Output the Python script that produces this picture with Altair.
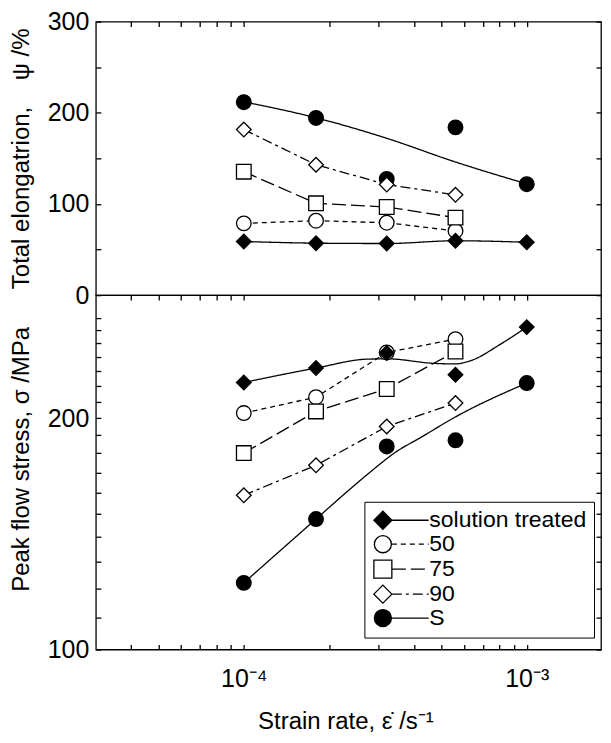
import altair as alt
import pandas as pd

FONT = "Liberation Sans"

# ---------------- data ----------------
series_order = ["solution treated", "50", "75", "90", "S"]
draw_order = ["S", "50", "75", "90", "solution treated"]
curve_names = {"solution treated": "ST line", "50": "50 line", "75": "75 line",
               "90": "90 line", "S": "S line"}
curve_order = [curve_names[s] for s in series_order]

rates = [1e-4, 1.8e-4, 3.2e-4, 5.6e-4, 1e-3]

# top panel: total elongation (%)
elong = {
    "solution treated": [58.8, 57.0, 56.6, 59.6, 58.0],
    "50": [78.7, 81.6, 79.4, 70.4],
    "75": [135.4, 100.7, 96.7, 85.0],
    "90": [181.6, 143.0, 121.3, 110.0],
    "S": [211.6, 194.3, 127.4, 184.0, 121.7],
}
elong_s_fit_rate = [1e-4, 1.8e-4, 3.2e-4, 5.6e-4, 1e-3]
elong_s_fit = [212.0, 194.5, 172.0, 146.0, 122.0]

# bottom panel: peak flow stress (MPa)
stress = {
    "solution treated": [222.5, 232.3, 243.0, 227.7, 262.6],
    "50": [203.0, 212.9, 243.4, 253.3],
    "75": [180.1, 204.0, 218.2, 244.1],
    "90": [158.7, 173.6, 195.0, 209.2],
    "S": [122.1, 147.8, 183.7, 187.1, 222.1],
}
stress_st_fit_rate = [1e-4, 1.8e-4, 2.74e-4, 3.22e-4, 4.68e-4, 5.6e-4, 6.32e-4, 8.06e-4, 1e-3]
stress_st_fit = [222.5, 232.3, 238.6, 238.8, 235.6, 235.2, 237.4, 249.4, 262.6]
stress_s_fit_rate = [1e-4, 1.8e-4, 2.385e-4, 2.85e-4, 3.44e-4, 4.21e-4, 5.6e-4, 1e-3]
stress_s_fit = [122.1, 147.8, 161.9, 171.1, 180.6, 188.6, 200.7, 222.1]

# axis ticks / labels
x_tick_vals = [4e-5, 5e-5, 6e-5, 7e-5, 8e-5, 9e-5,
               1e-4, 2e-4, 3e-4, 4e-4, 5e-4, 6e-4, 7e-4, 8e-4, 9e-4, 1e-3]
top_y_ticks = [0, 50, 100, 150, 200, 250, 300]
bot_y_ticks = [100, 110, 120, 130, 140, 150, 160, 170, 180, 190,
               200, 210, 220, 230, 240, 250, 260, 270]

# ---------------- legend symbols (marker + line sample, unit = half marker) ----
DIAMOND = "M-1,0L0,-1L1,0L0,1Z"
CIRCLE = "M0.95,0A0.95,0.95,0,1,1,-0.95,0A0.95,0.95,0,1,1,0.95,0Z"
SQUARE = "M-1,-1L1,-1L1,1L-1,1Z"
SOLID = "M1,0L5.1,0"
SHORT_DASH = "M1,0L1.56,0M2,0L2.56,0M3,0L3.56,0M4,0L4.56,0M5,0L5.1,0"
LONG_DASH = "M1,0L2.56,0M3.11,0L4.67,0"
DASH_DOT = "M1,0L2.11,0M2.56,0L2.89,0M3.33,0L4.44,0M4.89,0L5.1,0"
legend_paths = [DIAMOND + SOLID, CIRCLE + SHORT_DASH, SQUARE + LONG_DASH,
                DIAMOND + DASH_DOT, CIRCLE + SOLID]

# ---------------- tables ----------------
def point_table(d):
    rows = []
    for s in draw_order:
        for r, v in zip(rates, d[s]):
            rows.append({"series": s, "rate": r, "value": v})
    return pd.DataFrame(rows)


def line_table(d, names):
    rows = []
    for s in names:
        for r, v in zip(rates, d[s]):
            rows.append({"curve": curve_names[s], "rate": r, "value": v})
    return pd.DataFrame(rows)


def fit_table(pairs):
    rows = []
    for s, rr, vv in pairs:
        for r, v in zip(rr, vv):
            rows.append({"curve": curve_names[s], "rate": r, "value": v})
    return pd.DataFrame(rows)


pts_top_df = point_table(elong)
lin_top_df = line_table(elong, ["50", "75", "90"])
cur_top_df = fit_table([("solution treated", rates, elong["solution treated"]),
                        ("S", elong_s_fit_rate, elong_s_fit)])

pts_bot_df = point_table(stress)
lin_bot_df = line_table(stress, ["50", "75", "90"])
cur_bot_df = fit_table([("solution treated", stress_st_fit_rate, stress_st_fit),
                        ("S", stress_s_fit_rate, stress_s_fit)])
legend_df = pd.DataFrame({"entry": series_order,
                          "rate": [float("nan")] * 5,
                          "value": [float("nan")] * 5})

# ---------------- scales ----------------
W, H_TOP, H_BOT = 506, 274, 355
xscale = alt.Scale(type="log", domain=[3e-5, 1.83e-3], nice=False)
y_top_scale = alt.Scale(domain=[0, 300], nice=False, zero=False)
y_bot_scale = alt.Scale(type="log", domain=[100, 289], nice=False)
shape_scale = alt.Scale(domain=series_order,
                        range=["diamond", "circle", "square", "diamond", "circle"])
fill_range = ["black", "white", "white", "white", "black"]
fill_scale = alt.Scale(domain=series_order, range=fill_range)
dash_scale = alt.Scale(domain=curve_order,
                       range=[[1, 0], [5, 4], [14, 5], [10, 4, 3, 4], [1, 0]])
leg_shape_scale = alt.Scale(domain=series_order, range=legend_paths)
leg_fill_scale = alt.Scale(domain=series_order, range=fill_range)
leg_stroke_scale = alt.Scale(domain=series_order, range=["black"] * 5)


def inner_axis(orient, values, label_expr=None, title=None, **kw):
    d = dict(orient=orient, values=values, offset=-5, tickSize=5, tickWidth=1.3,
             tickColor="black", domain=False, grid=False, labelFlush=False,
             labelOverlap=False, labelFont=FONT, labelFontSize=25,
             labelColor="black", titleFont=FONT, titleFontSize=24,
             titleFontWeight="normal", titleColor="black", title=title)
    if label_expr is None:
        d["labels"] = False
    else:
        d["labelExpr"] = label_expr
    d.update(kw)
    return alt.Axis(**d)


x_label_expr = ("abs(log(datum.value)/LN10 + 4) < 0.01 ? '10\u207b\u2074' : "
                "abs(log(datum.value)/LN10 + 3) < 0.01 ? '10\u207b\u00b3' : ''")

legend_cfg = alt.Legend(orient="none", legendX=269, legendY=207, title=None,
                        labelFont=FONT, labelFontSize=23, labelColor="black",
                        labelLimit=400, labelOffset=35, rowPadding=0, padding=7,
                        symbolSize=324, symbolStrokeWidth=1.3, symbolOpacity=1,
                        strokeColor="black")

# ---------------- top panel ----------------
lin_top = alt.Chart(lin_top_df).mark_line(color="black", strokeWidth=1.3).encode(
    x=alt.X("rate:Q", scale=xscale, axis=None),
    y=alt.Y("value:Q", scale=y_top_scale, axis=inner_axis("right", top_y_ticks)),
    strokeDash=alt.StrokeDash("curve:N", scale=dash_scale, legend=None),
)
cur_top = alt.Chart(cur_top_df).mark_line(color="black", strokeWidth=1.3,
                                          interpolate="monotone").encode(
    x=alt.X("rate:Q", scale=xscale, axis=None),
    y=alt.Y("value:Q", scale=y_top_scale, axis=None),
    strokeDash=alt.StrokeDash("curve:N", scale=dash_scale, legend=None),
)
pts_top = alt.Chart(pts_top_df).mark_point(filled=True, size=215, stroke="black",
                                           strokeWidth=1.3, opacity=1).encode(
    x=alt.X("rate:Q", scale=xscale, axis=inner_axis("top", x_tick_vals)),
    y=alt.Y("value:Q", scale=y_top_scale,
            axis=inner_axis("left", top_y_ticks,
                            label_expr="datum.value % 100 == 0 ? datum.label : ''",
                            title="Total elongatrion,\u00a0\u00a0\u00a0\u00a0\u03c8 /%",
                            labelPadding=7, titlePadding=14)),
    shape=alt.Shape("series:N", scale=shape_scale, legend=None),
    fill=alt.Fill("series:N", scale=fill_scale, legend=None),
)
top = alt.layer(lin_top, cur_top, pts_top).resolve_axis(
    x="independent", y="independent").properties(width=W, height=H_TOP)

# ---------------- bottom panel ----------------
lin_bot = alt.Chart(lin_bot_df).mark_line(color="black", strokeWidth=1.3).encode(
    x=alt.X("rate:Q", scale=xscale, axis=inner_axis("top", x_tick_vals)),
    y=alt.Y("value:Q", scale=y_bot_scale, axis=inner_axis("right", bot_y_ticks)),
    strokeDash=alt.StrokeDash("curve:N", scale=dash_scale, legend=None),
)
cur_bot = alt.Chart(cur_bot_df).mark_line(color="black", strokeWidth=1.3,
                                          interpolate="monotone").encode(
    x=alt.X("rate:Q", scale=xscale, axis=None),
    y=alt.Y("value:Q", scale=y_bot_scale, axis=None),
    strokeDash=alt.StrokeDash("curve:N", scale=dash_scale, legend=None),
)
pts_bot = alt.Chart(pts_bot_df).mark_point(filled=True, size=215, stroke="black",
                                           strokeWidth=1.3, opacity=1).encode(
    x=alt.X("rate:Q", scale=xscale,
            axis=inner_axis("bottom", x_tick_vals, label_expr=x_label_expr,
                            title="Strain rate, \u03b5\u0307 /s\u207b\u00b9",
                            labelPadding=17, titlePadding=18, titleX=250,
                            titleAlign="center")),
    y=alt.Y("value:Q", scale=y_bot_scale,
            axis=inner_axis("left", bot_y_ticks,
                            label_expr="datum.value == 100 || datum.value == 200 ? datum.label : ''",
                            title="Peak flow stress, \u03c3 /MPa",
                            labelPadding=7, titlePadding=14, titleY=164,
                            titleAlign="center")),
    shape=alt.Shape("series:N", scale=shape_scale, legend=None),
    fill=alt.Fill("series:N", scale=fill_scale, legend=None),
)
# legend-only layer: its rows carry no values, so only the legend is drawn
leg_bot = alt.Chart(legend_df).mark_point(filled=True, strokeWidth=1.3,
                                          opacity=1).encode(
    x=alt.X("rate:Q", scale=xscale, axis=None),
    y=alt.Y("value:Q", scale=y_bot_scale, axis=None),
    shape=alt.Shape("entry:N", scale=leg_shape_scale, legend=legend_cfg),
    fill=alt.Fill("entry:N", scale=leg_fill_scale, legend=legend_cfg),
    stroke=alt.Stroke("entry:N", scale=leg_stroke_scale, legend=legend_cfg),
)
bottom = alt.layer(lin_bot, cur_bot, pts_bot, leg_bot).resolve_axis(
    x="independent", y="independent"
).resolve_scale(shape="independent", fill="independent", stroke="independent"
).properties(width=W, height=H_BOT)

chart = alt.vconcat(top, bottom, spacing=0, bounds="flush").resolve_scale(
    shape="independent", fill="independent", stroke="independent",
    strokeDash="independent"
).properties(padding={"left": 0, "top": 0, "right": 0, "bottom": 0}).configure(
    font=FONT
).configure_view(stroke="black", strokeWidth=1.3)

chart.save("out.html", embed_options={"renderer": "svg", "actions": False})
